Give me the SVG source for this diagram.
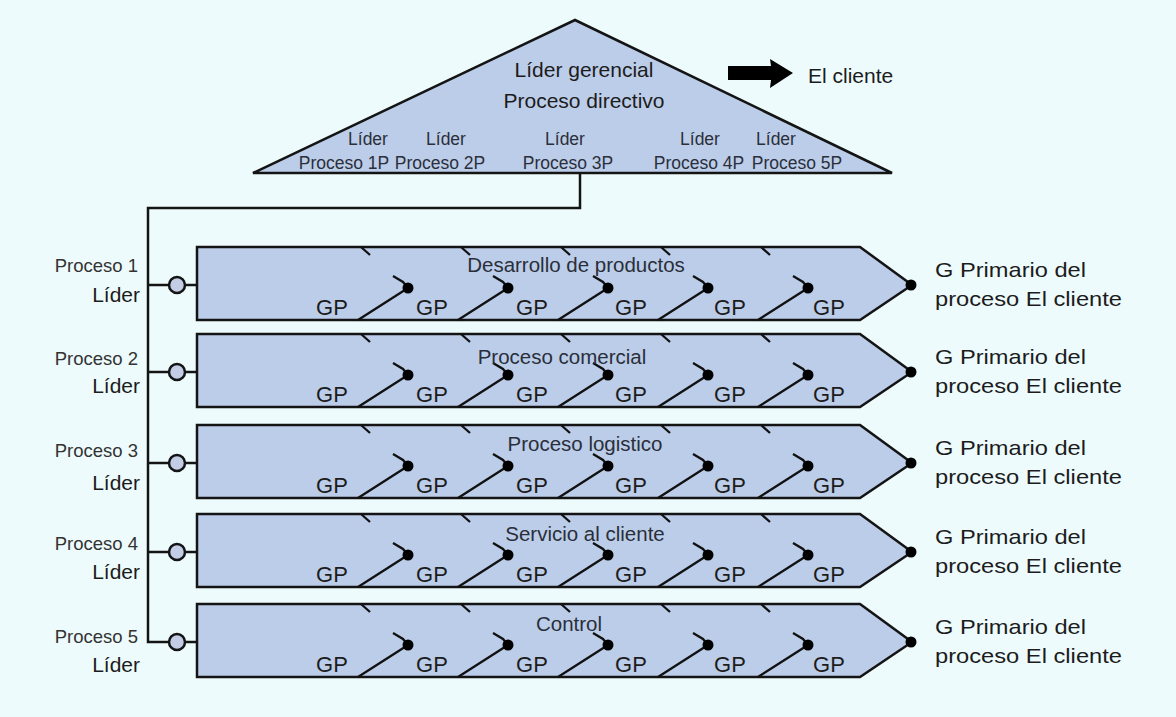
<svg xmlns="http://www.w3.org/2000/svg" xmlns:xlink="http://www.w3.org/1999/xlink" width="1176" height="717" viewBox="0 0 1176 717">
<style>
text{font-family:"Liberation Sans",Arial,sans-serif;fill:#1c1c1c}
.ln{fill:none;stroke:#141414;stroke-width:2.5}
.sh{fill:#bccde9;stroke:#141414;stroke-width:2.5;stroke-linejoin:miter}
.dec{fill:none;stroke:#111;stroke-width:2.3}
.dot{fill:#000}
.cir{fill:#c3cde6;stroke:#141414;stroke-width:2.5}
.gp{font-size:22px;text-anchor:middle}
.ttl{font-size:20.5px;text-anchor:middle;fill:#2a2f3a}
.lp{font-size:18.5px;text-anchor:end;fill:#333}
.ll{font-size:21px;text-anchor:end}
.rl{font-size:21px}
.tri{font-size:21px;text-anchor:middle}
.tris{font-size:17.5px;text-anchor:middle;fill:#2a2f3a}
</style>
<defs>
<g id="rowShape">
<path class="sh" d="M197,0 H860 L912,38 L860,73 H197 Z"/>
<path class="dec" d="M361,0 l9,8 M461,0 l9,8 M561,0 l9,8 M661,0 l9,8 M761,0 l9,8"/>
<path class="dec" d="M358,73 L408,41 M458,73 L508,41 M558,73 L608,41 M658,73 L708,41 M758,73 L808,41"/>
<path class="dec" d="M393,29 L403,35 L408,41 M493,29 L503,35 L508,41 M593,29 L603,35 L608,41 M693,29 L703,35 L708,41 M793,29 L803,35 L808,41"/>
<circle class="dot" cx="408" cy="41" r="5.5"/>
<circle class="dot" cx="508" cy="41" r="5.5"/>
<circle class="dot" cx="608" cy="41" r="5.5"/>
<circle class="dot" cx="708" cy="41" r="5.5"/>
<circle class="dot" cx="808" cy="41" r="5.5"/>
<circle class="dot" cx="911" cy="38" r="5.5"/>
<text class="gp" x="332" y="68">GP</text>
<text class="gp" x="432" y="68">GP</text>
<text class="gp" x="532" y="68">GP</text>
<text class="gp" x="631" y="68">GP</text>
<text class="gp" x="730" y="68">GP</text>
<text class="gp" x="829" y="68">GP</text>
</g>
</defs>
<rect x="0" y="0" width="1176" height="717" fill="#eefbfc"/>

<g id="connectors">
<path class="ln" d="M580,173 V208 H148 V642 H169"/>
<path class="ln" d="M148,285 H169 M148,372 H169 M148,463 H169 M148,552 H169"/>
<path class="ln" d="M185,285 H197 M185,372 H197 M185,463 H197 M185,552 H197 M185,642 H197"/>
<path fill="#000" d="M728,66 L771,66 L770,59 L793,73 L770,88 L771,80 L728,80 Z"/>
</g>

<g id="directivo">
<path class="sh" d="M253,173 L575,20 L892,173 Z"/>
<text class="tri" x="584" y="77">Líder gerencial</text>
<text class="tri" x="584" y="108">Proceso directivo</text>
<text class="tris" x="368" y="145">Líder</text>
<text class="tris" x="446" y="145">Líder</text>
<text class="tris" x="565" y="145">Líder</text>
<text class="tris" x="700" y="145">Líder</text>
<text class="tris" x="776" y="145">Líder</text>
<text class="tris" x="344" y="169">Proceso 1P</text>
<text class="tris" x="440" y="169">Proceso 2P</text>
<text class="tris" x="568" y="169">Proceso 3P</text>
<text class="tris" x="699" y="169">Proceso 4P</text>
<text class="tris" x="797" y="169">Proceso 5P</text>
</g>

<g id="cliente">
<text class="rl" x="808" y="83">El cliente</text>
</g>

<g id="proceso1">
<use xlink:href="#rowShape" transform="translate(0,247)"/>
<circle class="cir" cx="177" cy="285" r="8"/>
<text class="ttl" x="576" y="272">Desarrollo de productos</text>
<text class="lp" x="138" y="272">Proceso 1</text>
<text class="ll" x="140" y="302">Líder</text>
<text class="rl" x="935" y="277" textLength="151" lengthAdjust="spacingAndGlyphs">G Primario del</text>
<text class="rl" x="935" y="306" textLength="187" lengthAdjust="spacingAndGlyphs">proceso El cliente</text>
</g>

<g id="proceso2">
<use xlink:href="#rowShape" transform="translate(0,334)"/>
<circle class="cir" cx="177" cy="372" r="8"/>
<text class="ttl" x="562" y="364">Proceso comercial</text>
<text class="lp" x="138" y="365">Proceso 2</text>
<text class="ll" x="140" y="393">Líder</text>
<text class="rl" x="935" y="364" textLength="151" lengthAdjust="spacingAndGlyphs">G Primario del</text>
<text class="rl" x="935" y="393" textLength="187" lengthAdjust="spacingAndGlyphs">proceso El cliente</text>
</g>

<g id="proceso3">
<use xlink:href="#rowShape" transform="translate(0,425)"/>
<circle class="cir" cx="177" cy="463" r="8"/>
<text class="ttl" x="585" y="451">Proceso logistico</text>
<text class="lp" x="138" y="457">Proceso 3</text>
<text class="ll" x="140" y="490">Líder</text>
<text class="rl" x="935" y="455" textLength="151" lengthAdjust="spacingAndGlyphs">G Primario del</text>
<text class="rl" x="935" y="484" textLength="187" lengthAdjust="spacingAndGlyphs">proceso El cliente</text>
</g>

<g id="proceso4">
<use xlink:href="#rowShape" transform="translate(0,514)"/>
<circle class="cir" cx="177" cy="552" r="8"/>
<text class="ttl" x="585" y="541">Servicio al cliente</text>
<text class="lp" x="138" y="550">Proceso 4</text>
<text class="ll" x="140" y="579">Líder</text>
<text class="rl" x="935" y="544" textLength="151" lengthAdjust="spacingAndGlyphs">G Primario del</text>
<text class="rl" x="935" y="573" textLength="187" lengthAdjust="spacingAndGlyphs">proceso El cliente</text>
</g>

<g id="proceso5">
<use xlink:href="#rowShape" transform="translate(0,604)"/>
<circle class="cir" cx="177" cy="642" r="8"/>
<text class="ttl" x="569" y="631">Control</text>
<text class="lp" x="138" y="643">Proceso 5</text>
<text class="ll" x="140" y="672">Líder</text>
<text class="rl" x="935" y="634" textLength="151" lengthAdjust="spacingAndGlyphs">G Primario del</text>
<text class="rl" x="935" y="663" textLength="187" lengthAdjust="spacingAndGlyphs">proceso El cliente</text>
</g>
</svg>
